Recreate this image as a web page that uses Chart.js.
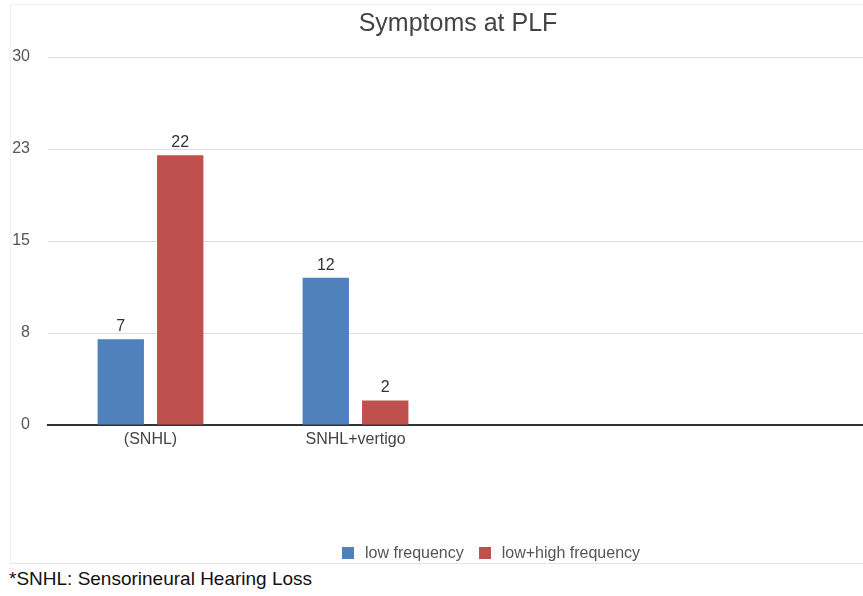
<!DOCTYPE html>
<html>
<head>
<meta charset="utf-8">
<script src="https://cdn.jsdelivr.net/npm/chart.js@4.4.1/dist/chart.umd.min.js"></script>
<style>
  body { margin: 0; background: #fff; width: 863px; height: 596px; overflow: hidden; position: relative; font-family: "Liberation Sans", Arial, sans-serif; }
  #frame { position: absolute; left: 10px; top: 4px; width: 900px; height: 558px; border: 1px solid #f0f0f0; border-bottom-color: #e4e4e4; }
  #wrap { position: absolute; left: 0; top: 0; width: 868px; height: 563px; }
  #legend { position: absolute; top: 544px; left: 342px; font-size: 16px; color: #555; white-space: nowrap; }
  #legend span.box { display: inline-block; width: 12px; height: 12px; vertical-align: -1px; margin-right: 11px; }
  #legend span.item { margin-right: 15px; }
  #note { position: absolute; left: 9px; top: 568px; font-size: 19px; color: #111; white-space: nowrap; }
</style>
</head>
<body>
<div id="frame"></div>
<div id="wrap"><canvas id="chart"></canvas></div>
<div id="legend"></div>
<div id="note">*SNHL: Sensorineural Hearing Loss</div>
<script>
// categories (last two slots are empty in the original chart)
const categories = ['(SNHL)', 'SNHL+vertigo', '', ''];
// series values
const lowFreq = [7, 12, null, null];
const lowHighFreq = [22, 2, null, null];
const seriesNames = ['low frequency', 'low+high frequency'];
const seriesColors = ['#4f81bd', '#c0504d'];
// y ticks are 0, 7.5, 15, 22.5, 30 shown rounded
const yMax = 30;
const yStep = 7.5;

// simple value labels above each bar
const barLabels = {
    id: 'barLabels',
    afterDatasetsDraw(chart) {
        const ctx = chart.ctx;
        ctx.save();
        ctx.font = '16px "Liberation Sans", Arial, sans-serif';
        ctx.fillStyle = '#333';
        ctx.textAlign = 'center';
        ctx.textBaseline = 'alphabetic';
        chart.data.datasets.forEach(function(ds, i) {
            const meta = chart.getDatasetMeta(i);
            meta.data.forEach(function(bar, k) {
                if (ds.data[k] == null) return;
                ctx.fillText(ds.data[k], bar.x, bar.y - 8);
            });
        });
        ctx.restore();
    }
};

new Chart(document.getElementById('chart'), {
    type: 'bar',
    data: {
        labels: categories,
        datasets: [
            { label: seriesNames[0], data: lowFreq, backgroundColor: seriesColors[0] },
            { label: seriesNames[1], data: lowHighFreq, backgroundColor: seriesColors[1] }
        ]
    },
    options: {
        responsive: true,
        maintainAspectRatio: false,
        animation: false,
        categoryPercentage: 0.58,
        barPercentage: 0.78,
        layout: { padding: { left: 0, right: 0, top: 0, bottom: 108 } },
        plugins: {
            legend: { display: false },
            tooltip: { enabled: false },
            title: {
                display: true,
                text: 'Symptoms at PLF',
                fullSize: false,
                color: '#444',
                font: { size: 25, family: '"Liberation Sans", Arial, sans-serif', weight: 'normal' },
                padding: { top: 9, bottom: 18 }
            }
        },
        scales: {
            x: {
                grid: { display: false, drawTicks: false },
                border: { display: true, color: '#333', width: 2 },
                ticks: {
                    color: '#444',
                    padding: 5,
                    maxRotation: 0,
                    font: { size: 16, family: '"Liberation Sans", Arial, sans-serif' }
                },
                afterFit: function(scale) { scale.height = 30; }
            },
            y: {
                min: 0,
                max: yMax,
                grid: { color: '#dedede', drawTicks: false },
                border: { display: false },
                ticks: {
                    stepSize: yStep,
                    color: '#555',
                    padding: 18,
                    font: { size: 16, family: '"Liberation Sans", Arial, sans-serif' },
                    callback: function(v) { return Math.round(v); }
                },
                afterFit: function(scale) { scale.width = 48; }
            }
        }
    },
    plugins: [barLabels]
});

// legend below the chart
const legendEl = document.getElementById('legend');
seriesNames.forEach(function(name, i) {
    const item = document.createElement('span');
    item.className = 'item';
    item.innerHTML = '<span class="box" style="background:' + seriesColors[i] + '"></span>' + name;
    legendEl.appendChild(item);
});
</script>
</body>
</html>
